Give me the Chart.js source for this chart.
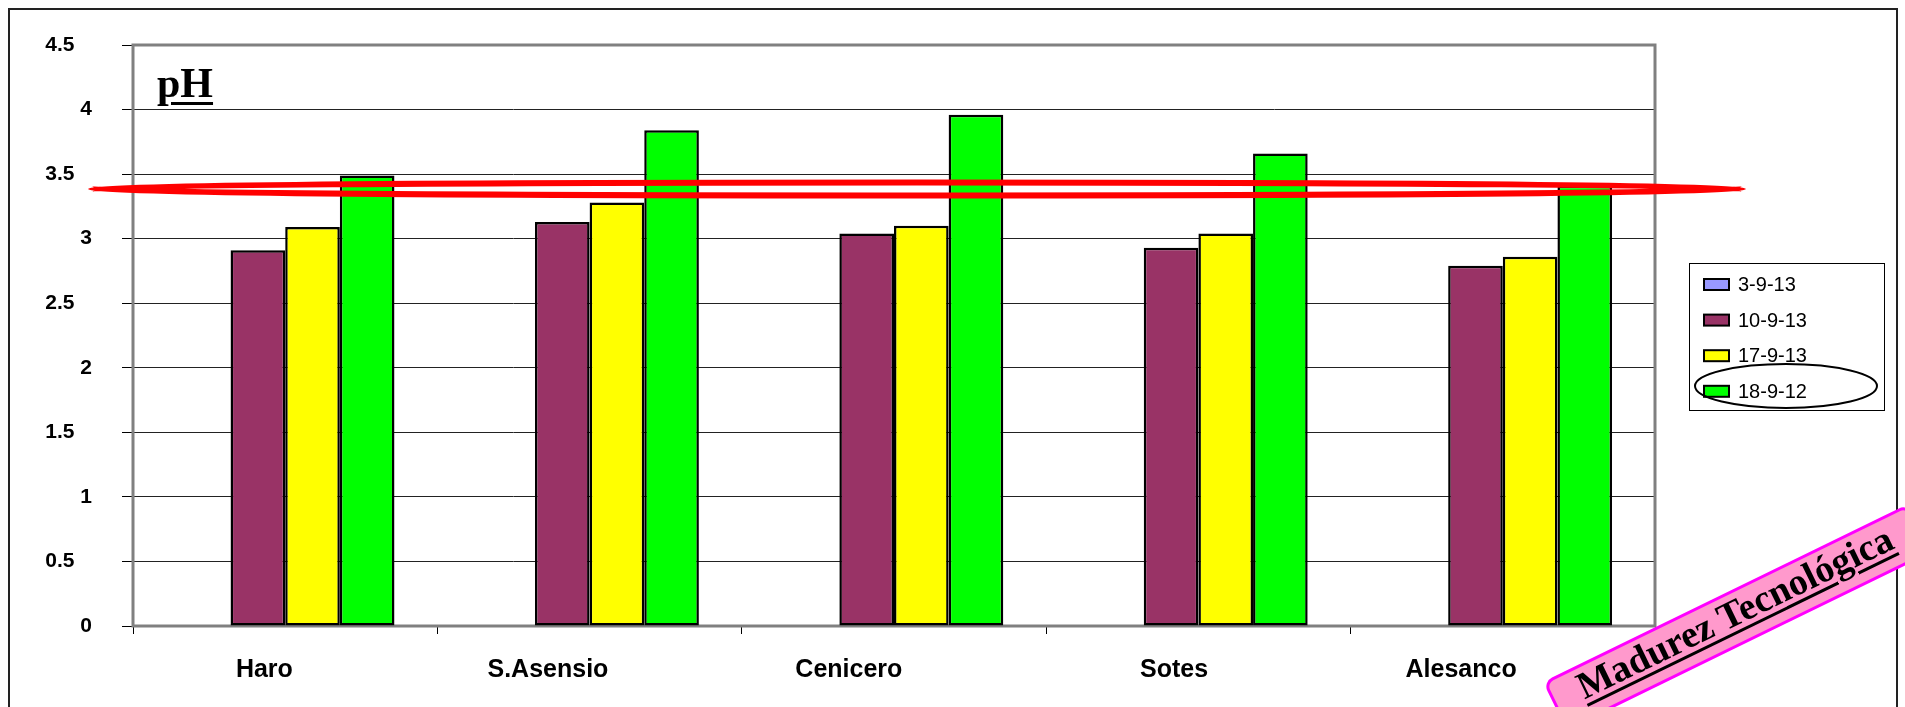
<!DOCTYPE html>
<html>
<head>
<meta charset="utf-8">
<script src="https://cdn.jsdelivr.net/npm/chart.js@4.4.1/dist/chart.umd.min.js"></script>
<style>
  html, body { margin: 0; padding: 0; background: #fff; overflow: hidden; }
  #wrap { position: relative; width: 1905px; height: 707px; }
  #frame { position: absolute; left: 8px; top: 8px; width: 1886px; height: 800px; border: 2px solid #222; }
  #phTitle { position: absolute; left: 157px; top: 62px; font: bold 42px "Liberation Serif", "Times New Roman", serif; line-height: 42px; text-decoration: underline; text-decoration-thickness: 3px; text-underline-offset: 5px; }
  #stamp { position: absolute; left: 1543px; top: 682px; width: 406px; height: 54px; box-sizing: border-box;
    transform-origin: 0 0; transform: rotate(-26deg); background: #FF99CC; border: 3px solid #FF00FF; border-radius: 10px;
    font: bold 38px "Liberation Serif", "Times New Roman", serif; line-height: 37px; text-align: center;
    text-decoration: underline; text-decoration-thickness: 3px; text-underline-offset: 5px; white-space: nowrap; }
</style>
</head>
<body>
<div id="wrap">
  <canvas id="phChart" width="1905" height="707"></canvas>
  <div id="frame"></div>
  <div id="phTitle">pH</div>
  <div id="stamp">Madurez Tecnológica</div>
</div>
<script>
const categories = ["Haro", "S.Asensio", "Cenicero", "Sotes", "Alesanco"];
const seriesNames = ["3-9-13", "10-9-13", "17-9-13", "18-9-12"];
const ph_3_9_13 = [null, null, null, null, null];
const ph_10_9_13 = [2.91, 3.13, 3.04, 2.93, 2.79];
const ph_17_9_13 = [3.09, 3.28, 3.10, 3.04, 2.86];
const ph_18_9_12 = [3.49, 3.84, 3.96, 3.66, 3.41];
const yMax = 4.5;
const yStep = 0.5;

const colors = ["#9999FF", "#993366", "#FFFF00", "#00FF00"];
const labelPad = [6, 12, 13, 7, 12]; // trailing spaces, labels sit left of centre in the original

const seriesData = [ph_3_9_13, ph_10_9_13, ph_17_9_13, ph_18_9_12];

// plot border, red ring, legend box
const decor = {
  id: "decor",
  beforeDatasetsDraw(chart) {
    const { ctx, chartArea: a } = chart;
    ctx.save();
    ctx.strokeStyle = "#808080";
    ctx.lineWidth = 3;
    ctx.strokeRect(a.left, a.top, a.right - a.left, a.bottom - a.top);
    ctx.restore();
  },
  afterDraw(chart) {
    const { ctx } = chart;
    const y = chart.scales.y;
    ctx.save();
    // red ring round the 3.4 level
    ctx.strokeStyle = "#FF0000";
    ctx.lineWidth = 6;
    ctx.beginPath();
    ctx.ellipse(917, y.getPixelForValue(3.385), 826, 6.5, 0, 0, Math.PI * 2);
    ctx.stroke();

    // legend
    ctx.strokeStyle = "#000";
    ctx.lineWidth = 1;
    ctx.strokeRect(1689.5, 263.5, 195, 147);
    ctx.font = "20px 'Liberation Sans', Arial, sans-serif";
    ctx.textBaseline = "middle";
    seriesNames.forEach((name, i) => {
      const cy = 284.5 + i * 35.6;
      ctx.fillStyle = colors[i];
      ctx.fillRect(1704, cy - 5.5, 25, 11);
      ctx.lineWidth = 2;
      ctx.strokeStyle = "#000";
      ctx.strokeRect(1704, cy - 5.5, 25, 11);
      ctx.fillStyle = "#000";
      ctx.fillText(name, 1738, cy + 1);
    });
    // black ring round the last entry
    ctx.lineWidth = 2;
    ctx.beginPath();
    ctx.ellipse(1786, 386, 91, 22, 0, 0, Math.PI * 2);
    ctx.stroke();
    ctx.restore();
  }
};

const ctx = document.getElementById("phChart").getContext("2d");
new Chart(ctx, {
  type: "bar",
  data: {
    labels: categories,
    datasets: seriesNames.map((name, i) => ({
      label: name,
      data: seriesData[i],
      backgroundColor: colors[i],
      borderColor: "#000",
      borderWidth: 2.5,
      borderSkipped: false
    }))
  },
  options: {
    responsive: false,
    animation: false,
    layout: { padding: { left: 0, top: 45, right: 250, bottom: 0 } },
    datasets: { bar: { categoryPercentage: 0.718, barPercentage: 1.0 } },
    plugins: { legend: { display: false }, tooltip: { enabled: false } },
    scales: {
      x: {
        afterFit: s => { s.height = 81; },
        border: { display: false },
        grid: { drawOnChartArea: false, drawTicks: true, tickLength: 8, color: "#000", offset: true },
        ticks: {
          padding: 21,
          color: "#000",
          font: { family: "'Liberation Sans', Arial, sans-serif", size: 25, weight: "bold" },
          callback: (v, i) => categories[i] + " ".repeat(labelPad[i])
        }
      },
      y: {
        min: 0,
        max: yMax,
        afterFit: s => { s.width = 133; },
        border: { display: false },
        grid: { color: "#222", lineWidth: 1, tickLength: 11, tickColor: "#000" },
        ticks: {
          stepSize: yStep,
          padding: 30,
          color: "#000",
          font: { family: "'Liberation Sans', Arial, sans-serif", size: 21, weight: "bold" },
          callback: v => Number.isInteger(v) ? String(v) : String(v) + "   "
        }
      }
    }
  },
  plugins: [decor]
});
</script>
</body>
</html>
